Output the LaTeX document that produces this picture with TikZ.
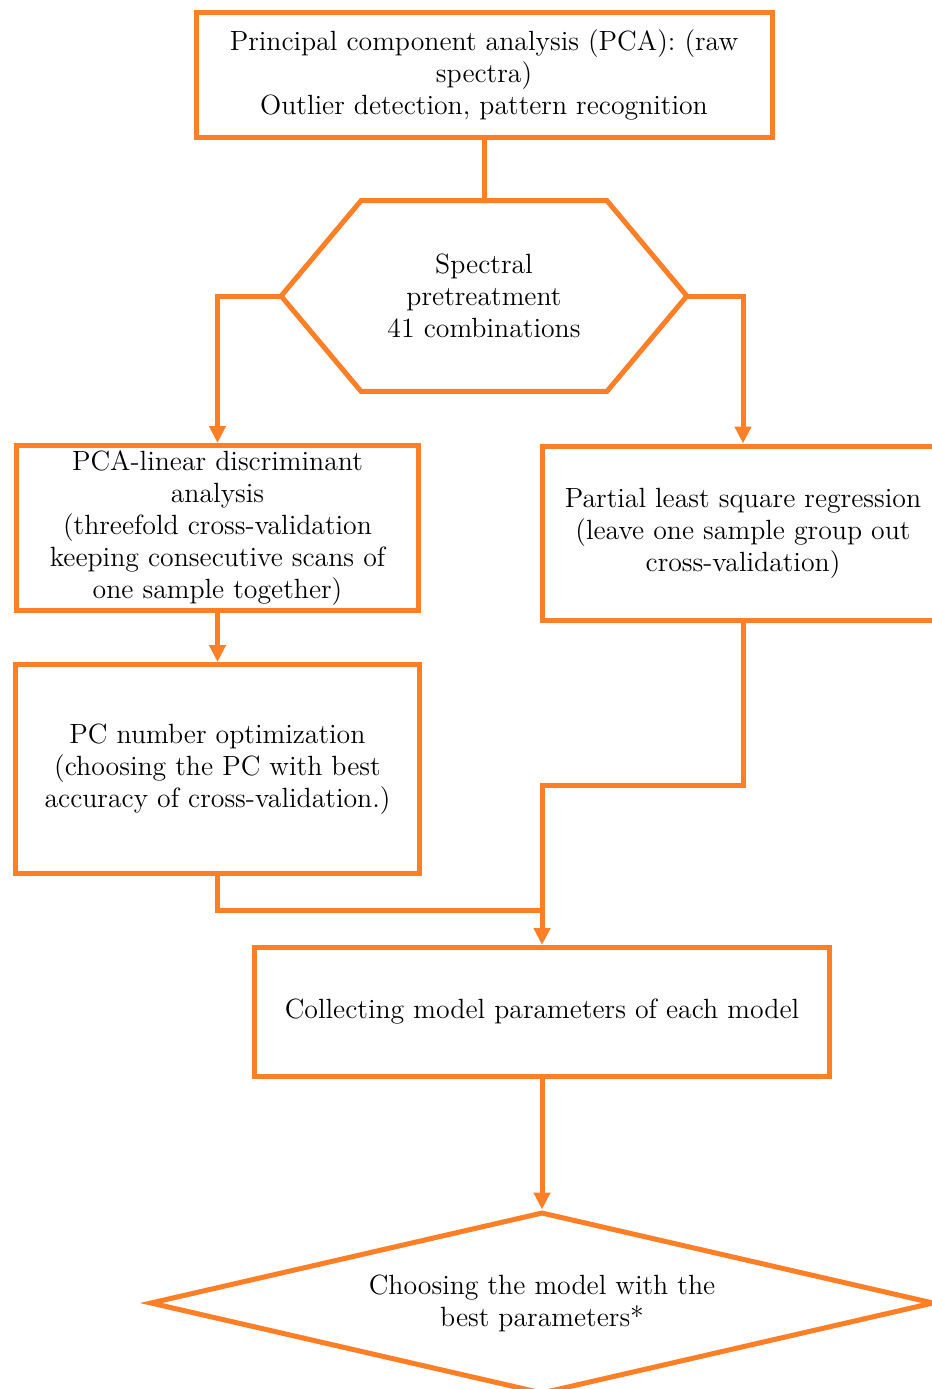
\documentclass[tikz,border=0pt]{standalone}
\usepackage{tikz}
\usetikzlibrary{positioning,arrows.meta,shapes.geometric}
\definecolor{flow}{RGB}{255,127,39}
\tikzset{
  box/.style={draw=flow,line width=2.5pt,fill=white,align=center,inner sep=0pt},
  link/.style={draw=flow,line width=2.5pt},
  arr/.style={link,-{Triangle[width=8pt,length=8.5pt]}}
}

\begin{document}
\begin{tikzpicture}[x=0.5pt,y=-0.5pt,font=\fontsize{13.9}{16}\selectfont]
\useasboundingbox (0,0) rectangle (932,1389);
\clip (0,0) rectangle (932,1389);
\node[box,minimum width=288pt,minimum height=62.5pt] (pca) at (484,75) {Principal component analysis (PCA): (raw\\ spectra)\\ Outlier detection, pattern recognition};
\node[align=center,inner sep=0pt,minimum width=202.5pt,minimum height=95pt] (pre) at (484,296) {Spectral\\ pretreatment\\ 41 combinations};
\draw[link] (pre.west) -- ([xshift=40pt]pre.north west) -- ([xshift=-40pt]pre.north east) -- (pre.east) -- ([xshift=-40pt]pre.south east) -- ([xshift=40pt]pre.south west) -- cycle;
\node[box,minimum width=201pt,minimum height=82.5pt] (lda) at (217.5,528) {PCA-linear discriminant\\ analysis\\ (threefold cross-validation\\ keeping consecutive scans of\\ one sample together)};
\node[box,minimum width=201pt,minimum height=87pt] (pls) at (743,533) {Partial least square regression\\ (leave one sample group out\\ cross-validation)};
\node[box,minimum width=202pt,minimum height=104.5pt] (pcopt) at (217.5,769) {PC number optimization\\ (choosing the PC with best\\ accuracy of cross-validation.)};
\node[box,minimum width=287.5pt,minimum height=64.5pt] (collect) at (542,1012) {Collecting model parameters of each model};
\node[box,diamond,aspect=4.3,minimum width=392pt,minimum height=91pt] (choose) at (542,1303) {Choosing the model with the\\ best parameters*};
\coordinate (bend) at (542,785);
\coordinate (join) at (542,910);
\draw[link] (pca.south) -- (pre.north);
\draw[arr] (pre.west) -| (lda.north);
\draw[arr] (pre.east) -| (pls.north);
\draw[arr] (lda.south) -- (pcopt.north);
\draw[link] (pcopt.south) |- (join);
\draw[arr] (pls.south) |- (bend) -- (collect.north);
\draw[arr] (collect.south) -- (choose.north);
\end{tikzpicture}
\end{document}
